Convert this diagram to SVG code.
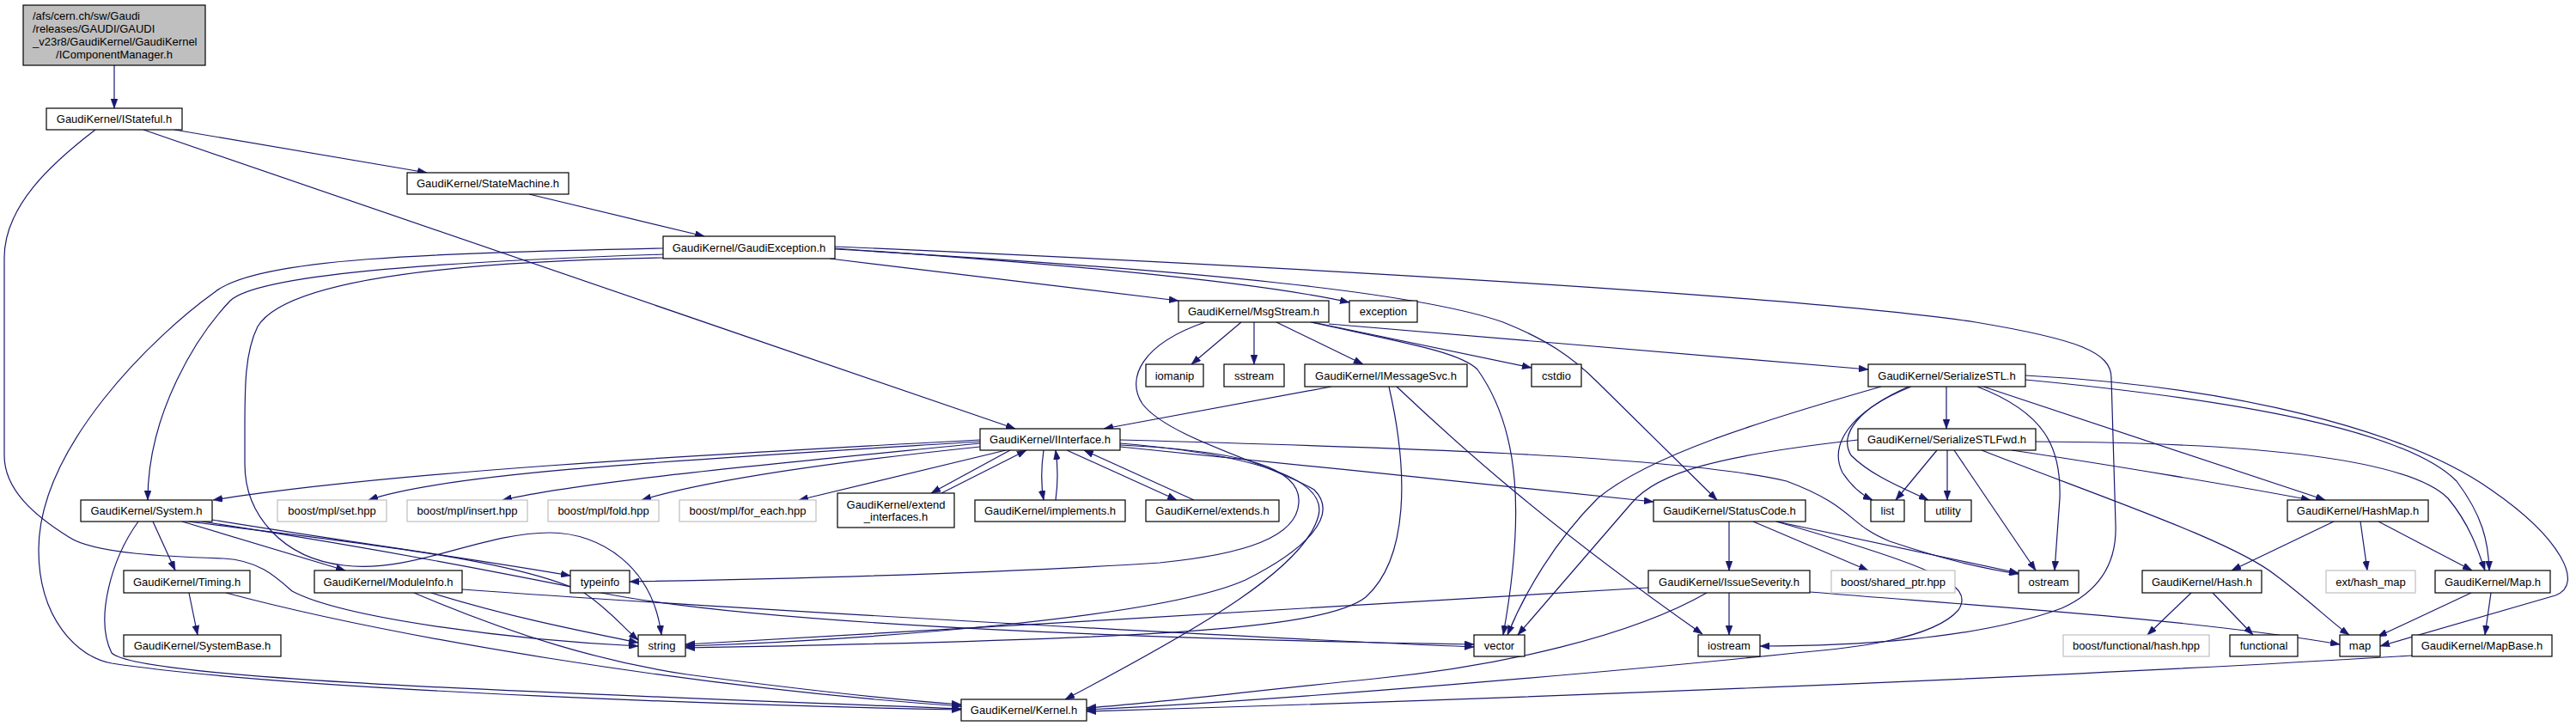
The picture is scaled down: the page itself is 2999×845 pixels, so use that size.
<svg xmlns="http://www.w3.org/2000/svg" width="2999" height="845" viewBox="0 0 2999 845">
<style>
.n rect{fill:#fff;stroke:#000;stroke-width:1.2}
.g rect{fill:#fff;stroke:#bfbfbf;stroke-width:1.2}
.r rect{fill:#bfbfbf;stroke:#000;stroke-width:1.2}
text{font-family:"Liberation Sans",Arial,sans-serif;font-size:13px;text-anchor:middle;fill:#000}
.l{text-anchor:start}
#edges path{fill:none;stroke:#191970;stroke-width:1.2;marker-end:url(#a)}
</style>
<defs>
<marker id="a" markerWidth="11" markerHeight="8" refX="11" refY="4" orient="auto" markerUnits="userSpaceOnUse"><path d="M0,0 L11,4 L0,8 z" fill="#191970" stroke="#191970" stroke-width="0.5"/></marker>
</defs>
<rect width="2999" height="845" fill="#fff"/>
<g id="edges">
<path d="M133,76 L133,126"/>
<path d="M203,151 L497,201"/>
<path d="M167,151 L1182,499"/>
<path d="M111,151 C60,190 5,240 5,300 L5,530 C5,570 40,600 80,625 C110,645 200,648 260,650 C300,652 320,670 340,688 C400,720 600,745 743,752"/>
<path d="M616,226 L820,275"/>
<path d="M772,289 C500,295 300,300 250,340 C180,390 45,520 45,640 C45,720 90,765 130,772 C350,805 900,822 1119,826"/>
<path d="M772,296 C500,305 300,320 268,350 C230,390 172,480 172,582"/>
<path d="M772,300 C500,305 330,330 300,380 C285,410 285,450 285,500 L285,540 C285,600 330,650 400,658 C480,668 560,620 640,620 C700,620 760,660 770,739"/>
<path d="M966,301 L1372,350"/>
<path d="M972,289 C1200,305 1450,325 1571,352"/>
<path d="M972,290 C1400,315 1650,340 1750,375 C1800,395 1830,415 1860,445 L1999,582"/>
<path d="M972,287 C1500,310 2100,345 2300,375 C2420,395 2458,410 2458,440 L2463,610 C2465,660 2440,690 2400,708 C2300,745 2150,752 2049,752"/>
<path d="M1403,375 C1330,400 1310,440 1330,470 C1360,510 1480,540 1530,570 C1560,600 1520,640 1450,675 C1350,720 1000,745 798,752"/>
<path d="M1445,375 L1387,424"/>
<path d="M1460,375 L1460,424"/>
<path d="M1486,375 L1587,424"/>
<path d="M1526,375 C1640,400 1700,410 1720,430 C1770,500 1775,600 1750,739"/>
<path d="M1528,375 L1783,428"/>
<path d="M1547,377 L2175,430"/>
<path d="M1550,450 L1285,499"/>
<path d="M1617,450 C1640,550 1640,650 1590,695 C1540,735 1300,745 798,754"/>
<path d="M1626,450 C1700,520 1800,610 1982,738"/>
<path d="M1141,512 C800,530 450,550 248,582"/>
<path d="M1141,514 C800,535 520,550 429,582"/>
<path d="M1141,516 C900,540 680,560 585,582"/>
<path d="M1141,520 C950,540 820,560 747,582"/>
<path d="M1171,524 L930,582"/>
<path d="M1176,524 L1084,574"/>
<path d="M1096,574 L1195,524"/>
<path d="M1215,524 C1212,545 1212,565 1215,582"/>
<path d="M1229,582 C1232,560 1232,545 1229,524"/>
<path d="M1242,524 L1370,582"/>
<path d="M1390,582 L1262,524"/>
<path d="M1304,520 C1500,540 1750,565 1925,584"/>
<path d="M1304,512 C1600,520 1950,530 2080,560 C2160,590 2150,610 2200,630 C2260,650 2300,660 2350,668"/>
<path d="M1304,518 C1450,525 1515,545 1512,585 C1510,625 1450,645 1350,655 C1150,668 900,674 733,677"/>
<path d="M1304,516 C1470,530 1545,560 1535,600 C1520,660 1400,730 1240,814"/>
<path d="M178,607 L204,664"/>
<path d="M212,607 L402,664"/>
<path d="M247,605 C400,630 550,650 664,670"/>
<path d="M219,607 C400,630 600,650 680,690 C710,710 725,730 743,745"/>
<path d="M235,607 C450,640 600,670 700,690 C900,730 1400,745 1716,750"/>
<path d="M161,607 C130,650 110,720 130,760 C160,790 600,805 1119,825"/>
<path d="M220,690 L230,739"/>
<path d="M263,690 C450,740 800,800 1119,822"/>
<path d="M482,690 C600,740 700,770 800,785 C950,805 1050,815 1119,820"/>
<path d="M502,690 C600,720 680,735 743,748"/>
<path d="M538,686 C800,705 1400,740 1716,753"/>
<path d="M2013,607 L2013,664"/>
<path d="M2041,607 L2175,664"/>
<path d="M2068,607 L2350,667"/>
<path d="M2068,607 C2250,660 2300,680 2280,710 C2250,745 2150,755 2090,760 C1900,780 1500,815 1265,826"/>
<path d="M2013,690 L2013,739"/>
<path d="M1919,684 C1700,695 1100,735 798,750"/>
<path d="M1987,690 C1900,740 1750,775 1600,790 C1450,805 1350,818 1265,824"/>
<path d="M2107,689 C2300,705 2550,720 2724,750"/>
<path d="M2266,450 L2266,499"/>
<path d="M2225,450 C2150,480 2130,520 2145,550 C2155,565 2165,575 2180,582"/>
<path d="M2222,450 C2165,475 2140,505 2155,530 C2180,555 2220,570 2245,582"/>
<path d="M2302,450 C2380,480 2400,520 2398,580 L2392,664"/>
<path d="M2309,450 L2707,582"/>
<path d="M2358,442 C2600,465 2800,500 2860,560 C2890,600 2897,630 2898,664"/>
<path d="M2358,437 C2600,450 2800,500 2900,570 C2980,625 3010,680 2975,693 L2771,752"/>
<path d="M2190,450 C2050,490 1920,530 1860,580 C1810,630 1775,690 1755,739"/>
<path d="M2255,524 L2207,582"/>
<path d="M2267,524 L2267,582"/>
<path d="M2275,524 L2370,664"/>
<path d="M2163,512 C2000,530 1930,550 1900,585 L1767,739"/>
<path d="M2342,524 C2450,540 2600,565 2690,582"/>
<path d="M2370,514 C2600,515 2800,530 2850,580 C2875,610 2885,640 2893,664"/>
<path d="M2307,524 C2450,580 2600,630 2650,670 C2690,700 2715,725 2735,739"/>
<path d="M2717,607 L2598,664"/>
<path d="M2748,607 L2756,664"/>
<path d="M2769,607 L2878,664"/>
<path d="M2551,690 L2500,739"/>
<path d="M2576,690 L2623,739"/>
<path d="M2877,690 L2768,741"/>
<path d="M2900,690 L2893,739"/>
<path d="M2808,763 C2400,788 1800,812 1265,828"/>
</g>
<g id="n0" class="r"><rect x="27" y="6" width="212" height="70"/><text class="l" x="38" y="23">/afs/cern.ch/sw/Gaudi</text><text class="l" x="38" y="38">/releases/GAUDI/GAUDI</text><text class="l" x="38" y="53">_v23r8/GaudiKernel/GaudiKernel</text><text x="133" y="67.5">/IComponentManager.h</text></g>
<g id="n1" class="n"><rect x="54" y="126" width="158" height="25"/><text x="133" y="143">GaudiKernel/IStateful.h</text></g>
<g id="n2" class="n"><rect x="474" y="201" width="188" height="25"/><text x="568" y="218">GaudiKernel/StateMachine.h</text></g>
<g id="n3" class="n"><rect x="772" y="275" width="200" height="26"/><text x="872" y="292.5">GaudiKernel/GaudiException.h</text></g>
<g id="n4" class="n"><rect x="1372" y="350" width="175" height="25"/><text x="1459.5" y="367">GaudiKernel/MsgStream.h</text></g>
<g id="n5" class="n"><rect x="1571" y="350" width="79" height="25"/><text x="1610.5" y="367">exception</text></g>
<g id="n6" class="n"><rect x="1334" y="424" width="67" height="26"/><text x="1367.5" y="441.5">iomanip</text></g>
<g id="n7" class="n"><rect x="1425" y="424" width="70" height="26"/><text x="1460" y="441.5">sstream</text></g>
<g id="n8" class="n"><rect x="1519" y="424" width="189" height="26"/><text x="1613.5" y="441.5">GaudiKernel/IMessageSvc.h</text></g>
<g id="n9" class="n"><rect x="1783" y="424" width="58" height="26"/><text x="1812" y="441.5">cstdio</text></g>
<g id="n10" class="n"><rect x="2175" y="424" width="183" height="26"/><text x="2266.5" y="441.5">GaudiKernel/SerializeSTL.h</text></g>
<g id="n11" class="n"><rect x="1141" y="499" width="163" height="25"/><text x="1222.5" y="516">GaudiKernel/IInterface.h</text></g>
<g id="n12" class="n"><rect x="2163" y="499" width="207" height="25"/><text x="2266.5" y="516">GaudiKernel/SerializeSTLFwd.h</text></g>
<g id="n13" class="n"><rect x="94" y="582" width="153" height="25"/><text x="170.5" y="599">GaudiKernel/System.h</text></g>
<g id="n14" class="g"><rect x="323" y="582" width="127" height="25"/><text x="386.5" y="599">boost/mpl/set.hpp</text></g>
<g id="n15" class="g"><rect x="474" y="582" width="140" height="25"/><text x="544" y="599">boost/mpl/insert.hpp</text></g>
<g id="n16" class="g"><rect x="638" y="582" width="129" height="25"/><text x="702.5" y="599">boost/mpl/fold.hpp</text></g>
<g id="n17" class="g"><rect x="791" y="582" width="159" height="25"/><text x="870.5" y="599">boost/mpl/for_each.hpp</text></g>
<g id="n18" class="n"><rect x="975" y="574" width="136" height="40"/><text x="1043" y="591.5">GaudiKernel/extend</text><text x="1043" y="605.5">_interfaces.h</text></g>
<g id="n19" class="n"><rect x="1135" y="582" width="175" height="25"/><text x="1222.5" y="599">GaudiKernel/implements.h</text></g>
<g id="n20" class="n"><rect x="1334" y="582" width="155" height="25"/><text x="1411.5" y="599">GaudiKernel/extends.h</text></g>
<g id="n21" class="n"><rect x="1925" y="582" width="177" height="25"/><text x="2013.5" y="599">GaudiKernel/StatusCode.h</text></g>
<g id="n22" class="n"><rect x="2178" y="582" width="39" height="25"/><text x="2197.5" y="599">list</text></g>
<g id="n23" class="n"><rect x="2241" y="582" width="54" height="25"/><text x="2268" y="599">utility</text></g>
<g id="n24" class="n"><rect x="2663" y="582" width="164" height="25"/><text x="2745" y="599">GaudiKernel/HashMap.h</text></g>
<g id="n25" class="n"><rect x="144" y="664" width="147" height="26"/><text x="217.5" y="681.5">GaudiKernel/Timing.h</text></g>
<g id="n26" class="n"><rect x="366" y="664" width="172" height="26"/><text x="452" y="681.5">GaudiKernel/ModuleInfo.h</text></g>
<g id="n27" class="n"><rect x="664" y="664" width="69" height="26"/><text x="698.5" y="681.5">typeinfo</text></g>
<g id="n28" class="n"><rect x="1919" y="664" width="188" height="26"/><text x="2013" y="681.5">GaudiKernel/IssueSeverity.h</text></g>
<g id="n29" class="g"><rect x="2132" y="664" width="144" height="26"/><text x="2204" y="681.5">boost/shared_ptr.hpp</text></g>
<g id="n30" class="n"><rect x="2350" y="664" width="70" height="26"/><text x="2385" y="681.5">ostream</text></g>
<g id="n31" class="n"><rect x="2494" y="664" width="139" height="26"/><text x="2563.5" y="681.5">GaudiKernel/Hash.h</text></g>
<g id="n32" class="g"><rect x="2708" y="664" width="104" height="26"/><text x="2760" y="681.5">ext/hash_map</text></g>
<g id="n33" class="n"><rect x="2835" y="664" width="134" height="26"/><text x="2902" y="681.5">GaudiKernel/Map.h</text></g>
<g id="n34" class="n"><rect x="144" y="739" width="183" height="25"/><text x="235.5" y="756">GaudiKernel/SystemBase.h</text></g>
<g id="n35" class="n"><rect x="743" y="739" width="55" height="25"/><text x="770.5" y="756">string</text></g>
<g id="n36" class="n"><rect x="1716" y="739" width="59" height="25"/><text x="1745.5" y="756">vector</text></g>
<g id="n37" class="n"><rect x="1977" y="739" width="72" height="25"/><text x="2013" y="756">iostream</text></g>
<g id="n38" class="g"><rect x="2402" y="739" width="170" height="25"/><text x="2487" y="756">boost/functional/hash.hpp</text></g>
<g id="n39" class="n"><rect x="2596" y="739" width="79" height="25"/><text x="2635.5" y="756">functional</text></g>
<g id="n40" class="n"><rect x="2724" y="739" width="47" height="25"/><text x="2747.5" y="756">map</text></g>
<g id="n41" class="n"><rect x="2808" y="739" width="163" height="25"/><text x="2889.5" y="756">GaudiKernel/MapBase.h</text></g>
<g id="n42" class="n"><rect x="1119" y="814" width="146" height="25"/><text x="1192" y="831">GaudiKernel/Kernel.h</text></g>
</svg>
